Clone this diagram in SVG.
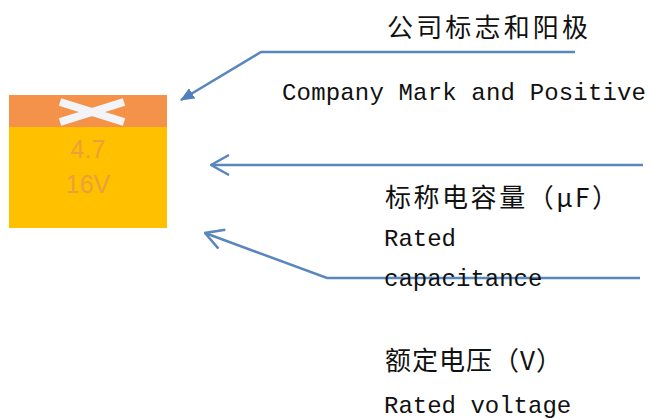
<svg xmlns="http://www.w3.org/2000/svg" width="651" height="419" viewBox="0 0 651 419">
<style>
.ln{fill:none;stroke:#5A86BE;stroke-width:2.5}
.cjk{font-family:"Noto Sans CJK SC","Liberation Mono",sans-serif;font-size:26px;fill:#111}
.mono{font-family:"Liberation Mono",monospace;font-size:24px;fill:#111}
.val{font-family:"Liberation Sans",sans-serif;font-size:25px;fill:#EE9E3A;text-anchor:middle}
</style>
<defs>
<marker id="tri" viewBox="0 0 14 12" refX="13" refY="6" markerWidth="14" markerHeight="12" markerUnits="userSpaceOnUse" orient="auto">
<path d="M0,0 L14,6 L0,12 Z" fill="#4F7FBF"/>
</marker>
<marker id="open" viewBox="0 0 20 22" refX="19" refY="11" markerWidth="20" markerHeight="22" markerUnits="userSpaceOnUse" orient="auto">
<path d="M1,1 L19,11 L1,21" fill="none" stroke="#5A86BE" stroke-width="2.5"/>
</marker>
</defs>
<g id="capacitor">
<rect x="9" y="95" width="158" height="133" fill="#FFC000"/>
<rect x="9" y="95" width="158" height="32" fill="#F5924A"/>
<path d="M60,102 L124,122 M60,122 L124,102" stroke="#F2F4F8" stroke-width="8" fill="none"/>
<text class="val" x="88" y="158">4.7</text>
<text class="val" x="88" y="193">16V</text>
</g>
<g id="connectors">
<path class="ln" d="M575,52 L261,52 L181,100" marker-end="url(#tri)"/>
<path class="ln" d="M643,165 L211,165" marker-end="url(#open)"/>
<path class="ln" d="M640,278 L327,278 L205,233" marker-end="url(#open)"/>
</g>
<g id="label-mark">
<text class="cjk" x="387" y="37" textLength="201" lengthAdjust="spacing">公司标志和阳极</text>
<text class="mono" x="282" y="100" textLength="364" lengthAdjust="spacing">Company Mark and Positive</text>
</g>
<g id="label-capacitance">
<text class="cjk" x="385" y="207" textLength="233" lengthAdjust="spacing">标称电容量（μF）</text>
<text class="mono" x="384" y="246">Rated</text>
<text class="mono" x="384" y="286">capacitance</text>
</g>
<g id="label-voltage">
<text class="cjk" x="385" y="370" textLength="177" lengthAdjust="spacing">额定电压（V）</text>
<text class="mono" x="384" y="413">Rated voltage</text>
</g>
</svg>
